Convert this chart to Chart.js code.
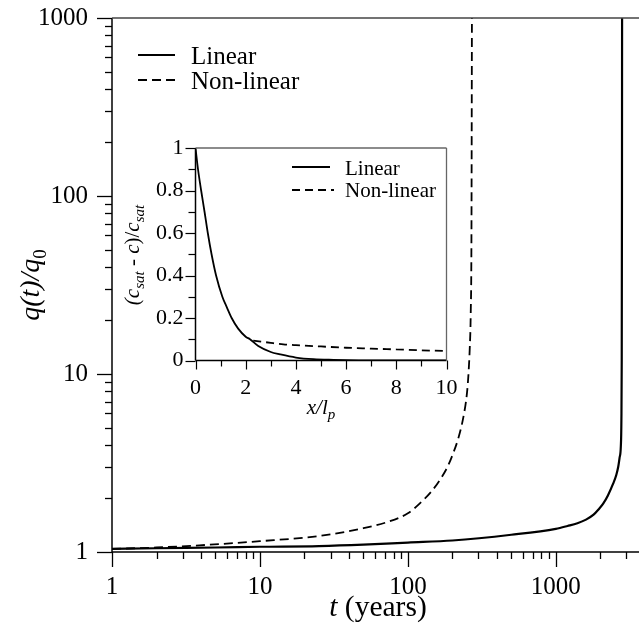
<!DOCTYPE html>
<html><head><meta charset="utf-8">
<script src="https://cdn.jsdelivr.net/npm/chart.js@4/dist/chart.umd.min.js"></script>
<style>
html,body{margin:0;padding:0;background:#fff;}
#wrap{position:relative;width:639px;height:625px;overflow:hidden;}
canvas{position:absolute;left:0;top:0;}
</style></head><body>
<div id="wrap"><canvas id="main" width="639" height="625"></canvas><canvas id="inset" width="639" height="625"></canvas></div>
<script>
// ---- data ----
const seriesNames = ['Linear', 'Non-linear'];
// main plot: q(t)/q0 vs t (years), log-log
const tLinear = [1, 2, 5, 10, 25, 50, 100, 200, 500, 1000, 1200, 1400, 1600, 1800, 1950, 2090, 2250, 2440, 2560, 2640, 2700, 2750, 2775, 2790, 2800, 2805];
const qLinear = [1.04, 1.05, 1.06, 1.07, 1.08, 1.10, 1.13, 1.16, 1.25, 1.35, 1.40, 1.45, 1.52, 1.62, 1.74, 1.87, 2.08, 2.42, 2.7, 3.0, 3.4, 3.9, 5.5, 12, 100, 1000];
const tNonLinear = [1, 2, 3.9, 10, 25, 50, 72, 100, 120, 145, 164, 185, 202, 220, 237, 250, 256, 262, 266, 269, 271];
const qNonLinear = [1.04, 1.06, 1.09, 1.15, 1.23, 1.36, 1.47, 1.65, 1.87, 2.2, 2.53, 3.0, 3.57, 4.4, 5.7, 7.6, 9.6, 14, 22, 60, 1000];
const mainXLabels = [1, 10, 100, 1000];
const mainYLabels = [1, 10, 100, 1000];
// inset: (c_sat - c)/c_sat vs x/l_p
const xInset = [0, 0.1, 0.225, 0.36, 0.49, 0.64, 0.82, 1.07, 1.25, 1.44, 1.7, 2.0, 2.17, 2.5, 3.0, 3.37, 4.0, 4.7, 5.5, 6.5, 8.0, 10];
const cLinear = [1.0, 0.9, 0.8, 0.7, 0.6, 0.5, 0.4, 0.3, 0.25, 0.2, 0.15, 0.112, 0.1, 0.068, 0.04, 0.029, 0.014, 0.006, 0.003, 0.001, 0.0003, 0];
const xInsetNL = [2.3, 3.0, 3.5, 4.0, 5.0, 6.0, 7.0, 8.0, 9.0, 9.87];
const cNonLinear = [0.094, 0.083, 0.076, 0.072, 0.066, 0.060, 0.056, 0.052, 0.048, 0.045];
const insetXLabels = [0, 2, 4, 6, 8, 10];
const insetYLabels = [0, 0.2, 0.4, 0.6, 0.8, 1];

const SERIF = '"Liberation Serif", "Times New Roman", serif';
const pts = (xs, ys) => xs.map((x, i) => ({x: x, y: ys[i]}));

function line(ctx, x1, y1, x2, y2) { ctx.beginPath(); ctx.moveTo(x1, y1); ctx.lineTo(x2, y2); ctx.stroke(); }
function noPad(s) { s.paddingTop = 0; s.paddingBottom = 0; s.paddingLeft = 0; s.paddingRight = 0; }

// draw a sequence of [text, font, dy] pieces centred at x, baseline y
function drawPieces(ctx, pieces, x, y) {
  let w = 0;
  pieces.forEach(p => { ctx.font = p[1]; w += ctx.measureText(p[0]).width; });
  let cx = x - w / 2;
  pieces.forEach(p => { ctx.font = p[1]; ctx.fillText(p[0], cx, y + (p[2] || 0)); cx += ctx.measureText(p[0]).width; });
}

const mainDecor = {
  id: 'mainDecor',
  afterDraw(chart) {
    const ctx = chart.ctx, a = chart.chartArea, xs = chart.scales.x, ys = chart.scales.y;
    ctx.save();
    ctx.strokeStyle = '#000'; ctx.lineWidth = 1.5; ctx.lineCap = 'butt';
    line(ctx, a.left, a.top, a.left, a.bottom);
    line(ctx, a.left, a.bottom, a.right, a.bottom);
    ctx.strokeStyle = '#444';
    line(ctx, a.left, a.top, a.right, a.top);
    ctx.strokeStyle = '#000';
    ctx.lineWidth = 1.3;
    [1, 10, 100, 1000].forEach(d => {
      for (let m = 1; m <= 9; m++) {
        const v = m * d;
        const len = m === 1 ? 15 : 7;
        if (v <= xs.max) { const px = Math.round(xs.getPixelForValue(v)) + 0.5; line(ctx, px, a.bottom, px, a.bottom + len); }
        if (v <= ys.max) { const py = Math.round(ys.getPixelForValue(v)) + 0.5; line(ctx, a.left - len, py, a.left, py); }
      }
    });
    // legend
    ctx.lineWidth = 2;
    line(ctx, 138, 55, 175, 55);
    ctx.setLineDash([9, 5]);
    line(ctx, 138, 80, 180, 80);
    ctx.setLineDash([]);
    ctx.fillStyle = '#000';
    ctx.textBaseline = 'alphabetic';
    ctx.textAlign = 'left';
    ctx.font = '25px ' + SERIF;
    ctx.fillText(chart.data.datasets[0].label, 191, 63.5);
    ctx.fillText(chart.data.datasets[1].label, 191, 88.5);
    // axis titles
    drawPieces(ctx, [['t', 'italic 29.5px ' + SERIF], [' (years)', '29.5px ' + SERIF]], 378, 616);
    ctx.translate(39, 285);
    ctx.rotate(-Math.PI / 2);
    drawPieces(ctx, [['q(t)/q', 'italic 28px ' + SERIF], ['0', '19px ' + SERIF, 7]], 0, 0);
    ctx.restore();
  }
};

new Chart(document.getElementById('main'), {
  type: 'line',
  data: {
    datasets: [
      {label: seriesNames[0], data: pts(tLinear, qLinear), borderColor: '#000', borderWidth: 2.2, pointRadius: 0, cubicInterpolationMode: 'monotone', fill: false},
      {label: seriesNames[1], data: pts(tNonLinear, qNonLinear), borderColor: '#000', borderWidth: 1.8, borderDash: [9, 5], pointRadius: 0, cubicInterpolationMode: 'monotone', fill: false}
    ]
  },
  options: {
    responsive: false, devicePixelRatio: 1, animation: false,
    layout: {padding: {left: 0, top: 18, right: 0, bottom: 0}},
    plugins: {legend: {display: false}, tooltip: {enabled: false}},
    scales: {
      x: {
        type: 'logarithmic', min: 1, max: 3650,
        grid: {display: false, drawTicks: false}, border: {display: false},
        afterFit(s) { s.height = 73; noPad(s); },
        ticks: {autoSkip: false, maxRotation: 0, minRotation: 0, padding: 20, color: '#000', font: {family: SERIF, size: 25},
          callback: v => mainXLabels.find(l => Math.abs(l - v) < 1e-6) !== undefined ? String(v) : ''}
      },
      y: {
        type: 'logarithmic', min: 1, max: 1000,
        grid: {display: false, drawTicks: false}, border: {display: false},
        afterFit(s) { s.width = 112; noPad(s); },
        ticks: {autoSkip: false, padding: 24, color: '#000', font: {family: SERIF, size: 25},
          callback: v => mainYLabels.find(l => Math.abs(l - v) < 1e-6) !== undefined ? String(v) : ''}
      }
    }
  },
  plugins: [mainDecor]
});

const insetDecor = {
  id: 'insetDecor',
  beforeDraw(chart) {
    const ctx = chart.ctx, a = chart.chartArea;
    ctx.save(); ctx.fillStyle = '#fff'; ctx.fillRect(a.left, a.top, a.right - a.left, a.bottom - a.top); ctx.restore();
  },
  afterDraw(chart) {
    const ctx = chart.ctx, a = chart.chartArea, xs = chart.scales.x, ys = chart.scales.y;
    ctx.save();
    ctx.strokeStyle = '#000'; ctx.lineWidth = 1.5;
    line(ctx, a.left, a.top, a.left, a.bottom);
    line(ctx, a.left, a.bottom, a.right, a.bottom);
    ctx.strokeStyle = '#666'; ctx.lineWidth = 1.3;
    line(ctx, a.left, a.top, a.right, a.top);
    line(ctx, a.right, a.top, a.right, a.bottom);
    ctx.strokeStyle = '#000'; ctx.lineWidth = 1.2;
    for (let i = 0; i <= 10; i++) {
      const px = Math.round(xs.getPixelForValue(i)) + 0.5;
      line(ctx, px, a.bottom, px, a.bottom + (i % 2 === 0 ? 9 : 6));
      const py = Math.round(ys.getPixelForValue(i / 10)) + 0.5;
      line(ctx, a.left - (i % 2 === 0 ? 10 : 7), py, a.left, py);
    }
    // legend
    ctx.lineWidth = 1.8;
    line(ctx, 292, 167, 330, 167);
    ctx.setLineDash([8, 5]);
    line(ctx, 292, 190, 334, 190);
    ctx.setLineDash([]);
    ctx.fillStyle = '#000';
    ctx.textAlign = 'left'; ctx.textBaseline = 'alphabetic';
    ctx.font = '21px ' + SERIF;
    ctx.fillText(chart.data.datasets[0].label, 345, 174.5);
    ctx.fillText(chart.data.datasets[1].label, 345, 197);
    // axis titles
    drawPieces(ctx, [['x/l', 'italic 21px ' + SERIF], ['p', 'italic 15px ' + SERIF, 5]], 321, 414);
    ctx.translate(139, 255);
    ctx.rotate(-Math.PI / 2);
    drawPieces(ctx, [['(c', 'italic 21px ' + SERIF], ['sat', 'italic 15px ' + SERIF, 5], [' - ', '21px ' + SERIF], ['c', 'italic 21px ' + SERIF], [')/', '21px ' + SERIF], ['c', 'italic 21px ' + SERIF], ['sat', 'italic 15px ' + SERIF, 5]], 0, 0);
    ctx.restore();
  }
};

new Chart(document.getElementById('inset'), {
  type: 'line',
  data: {
    datasets: [
      {label: seriesNames[0], data: pts(xInset, cLinear), borderColor: '#000', borderWidth: 1.8, pointRadius: 0, cubicInterpolationMode: 'monotone', fill: false},
      {label: seriesNames[1], data: pts(xInsetNL, cNonLinear), borderColor: '#000', borderWidth: 1.8, borderDash: [8, 5], pointRadius: 0, cubicInterpolationMode: 'monotone', fill: false}
    ]
  },
  options: {
    responsive: false, devicePixelRatio: 1, animation: false,
    layout: {padding: {left: 0, top: 148, right: 192.5, bottom: 0}},
    plugins: {legend: {display: false}, tooltip: {enabled: false}},
    scales: {
      x: {
        type: 'linear', min: 0, max: 10,
        grid: {display: false, drawTicks: false}, border: {display: false},
        afterFit(s) { s.height = 264.5; noPad(s); },
        afterBuildTicks(s) { s.ticks = insetXLabels.map(v => ({value: v})); },
        ticks: {autoSkip: false, maxRotation: 0, padding: 15, color: '#000', font: {family: SERIF, size: 22},
          callback: v => String(v)}
      },
      y: {
        type: 'linear', min: 0, max: 1,
        grid: {display: false, drawTicks: false}, border: {display: false},
        afterFit(s) { s.width = 195.5; noPad(s); },
        afterBuildTicks(s) { s.ticks = insetYLabels.map(v => ({value: v})); },
        ticks: {autoSkip: false, padding: 12, color: '#000', font: {family: SERIF, size: 22},
          callback: v => String(v)}
      }
    }
  },
  plugins: [insetDecor]
});
</script>
</body></html>
